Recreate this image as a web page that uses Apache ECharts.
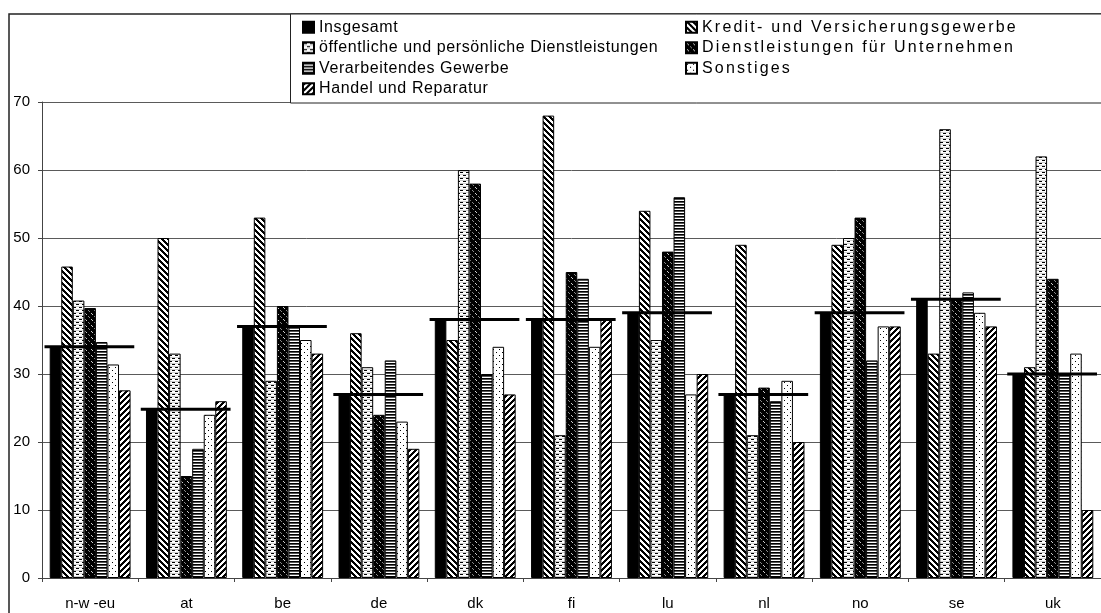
<!DOCTYPE html>
<html>
<head>
<meta charset="utf-8">
<script src="https://cdn.jsdelivr.net/npm/echarts@6/dist/echarts.min.js"></script>
<style>
html,body{margin:0;padding:0;background:#fff;}
#chart{width:1101px;height:613px;}
</style>
</head>
<body>
<div id="chart"></div>
<script>
// ---- data ----
var categories = ['n-w -eu','at','be','de','dk','fi','lu','nl','no','se','uk'];
var seriesNames = [
  'Insgesamt',
  'Kredit- und Versicherungsgewerbe',
  'öffentliche und persönliche Dienstleistungen',
  'Dienstleistungen für Unternehmen',
  'Verarbeitendes Gewerbe',
  'Sonstiges',
  'Handel und Reparatur'
];
var insgesamt      = [34, 24.8, 37, 27, 38, 38, 39, 27, 39, 41, 30];
var kredit         = [45.8, 50, 53, 36, 35, 68, 54, 49, 49, 33, 31];
var oeffentliche   = [40.8, 33, 29, 31, 60, 21, 35, 21, 50, 66, 62];
var dienstUntern   = [39.7, 15, 40, 24, 58, 45, 48, 28, 53, 41, 44];
var verarbeitendes = [34.7, 19, 37, 32, 30, 44, 56, 26, 32, 42, 30];
var sonstiges      = [31.4, 24, 35, 23, 34, 34, 27, 29, 37, 39, 33];
var handel         = [27.6, 26, 33, 19, 27, 38, 30, 20, 37, 37, 10];
var yTicks = [0, 10, 20, 30, 40, 50, 60, 70];

// ---- patterns ----
function makePattern(w, h, bg, fn) {
  var c = document.createElement('canvas');
  c.width = w; c.height = h;
  var ctx = c.getContext('2d');
  ctx.fillStyle = bg; ctx.fillRect(0, 0, w, h);
  for (var y = 0; y < h; y++) {
    for (var x = 0; x < w; x++) {
      var col = fn(x, y);
      if (col) { ctx.fillStyle = col; ctx.fillRect(x, y, 1, 1); }
    }
  }
  return { image: c, repeat: 'repeat' };
}
var fills = [
  '#000000',
  makePattern(6, 6, '#ffffff', function (x, y) { return (((x - y) % 6) + 6) % 6 < 3 ? '#000' : null; }),
  makePattern(6, 6, '#ffffff', function (x, y) {
    if (y === 1 && x >= 1 && x <= 3) return '#000';
    if (y === 4 && (x >= 4 || x === 0)) return '#000';
    if (y === 0 || y === 3) return '#d0d0d0';
    return null;
  }),
  makePattern(6, 6, '#000000', function (x, y) {
    if ((x === 1 && y === 1) || (x === 2 && y === 2)) return '#cfcfcf';
    if ((x === 4 && y === 4) || (x === 5 && y === 5)) return '#8a8a8a';
    return null;
  }),
  makePattern(1, 3, '#ffffff', function (x, y) { return y === 0 ? '#000' : (y === 1 ? '#555' : null); }),
  makePattern(6, 6, '#ffffff', function (x, y) {
    if ((x === 1 && y === 1) || (x === 4 && y === 4)) return '#000';
    return null;
  }),
  makePattern(6, 6, '#ffffff', function (x, y) { return (x + y) % 6 < 3 ? '#000' : null; })
];
var seriesData = [insgesamt, kredit, oeffentliche, dienstUntern, verarbeitendes, sonstiges, handel];

var FONT = '"Liberation Sans", Arial, sans-serif';

var series = seriesNames.map(function (name, i) {
  return {
    name: name,
    type: 'bar',
    data: seriesData[i],
    barGap: '0%',
    barCategoryGap: '16%',
    itemStyle: { color: fills[i], borderColor: '#000', borderWidth: 1 },
    emphasis: { disabled: true },
    z: 2
  };
});
series.push({
  name: 'Insgesamt-Linie',
  type: 'custom',
  z: 10,
  data: insgesamt.map(function (v, i) { return [i, v]; }),
  renderItem: function (params, api) {
    var p = api.coord([api.value(0), api.value(1)]);
    var bw = api.size([1, 0])[0];
    return {
      type: 'line',
      shape: { x1: p[0] - bw / 2 + 2.5, y1: p[1], x2: p[0] + bw / 2 - 4, y2: p[1] },
      style: { stroke: '#000', lineWidth: 3 }
    };
  },
  silent: true
});

var legendCommon = {
  orient: 'vertical',
  itemWidth: 11,
  itemHeight: 11,
  itemGap: 4,
  padding: 0,
  icon: 'rect',
  selectedMode: false,
  textStyle: { fontFamily: FONT, fontSize: 16, color: '#000', lineHeight: 16.5 }
};

var option = {
  animation: false,
  backgroundColor: '#fff',
  graphic: [
    { type: 'rect', z: 0, shape: { x: 9, y: 14, width: 1300, height: 800 },
      style: { fill: 'none', stroke: '#222', lineWidth: 1.5 } },
    { type: 'rect', z: 1, shape: { x: 290.5, y: 14, width: 1000, height: 89 },
      style: { fill: '#fff', stroke: '#222', lineWidth: 1 } }
  ],
  legend: [
    Object.assign({}, legendCommon, { zlevel: 1, left: 302, top: 19, data: [seriesNames[0], seriesNames[2], seriesNames[4], seriesNames[6]] }),
    Object.assign({}, legendCommon, { zlevel: 2, left: 685, top: 19, data: [seriesNames[1], seriesNames[3], seriesNames[5]] })
  ],
  grid: { left: 42, top: 102, width: 1062, height: 476 },
  xAxis: {
    type: 'category',
    data: categories,
    axisLine: { lineStyle: { color: '#444', width: 1 } },
    axisTick: { show: true, length: 4, lineStyle: { color: '#444' } },
    axisLabel: { fontFamily: FONT, fontSize: 15, color: '#000', margin: 18 },
    splitLine: { show: false }
  },
  yAxis: {
    type: 'value',
    min: yTicks[0],
    max: yTicks[yTicks.length - 1],
    interval: 10,
    axisLine: { show: true, lineStyle: { color: '#444', width: 1 } },
    axisTick: { show: true, length: 4, lineStyle: { color: '#444' } },
    axisLabel: { fontFamily: FONT, fontSize: 15, color: '#000', margin: 12 },
    splitLine: { show: true, lineStyle: { color: '#5a5a5a', width: 1 } }
  },
  series: series
};

var chart = echarts.init(document.getElementById('chart'), null, { renderer: 'canvas' });
chart.setOption(option);
// widen the legend lettering a little, as in the original rendering
try {
  var painter = chart.getZr().painter;
  var l1 = painter.getLayer(1), l2 = painter.getLayer(2);
  if (l1 && l1.ctx) l1.ctx.letterSpacing = '0.6px';
  if (l2 && l2.ctx) l2.ctx.letterSpacing = '2.2px';
  painter.refresh(true);
} catch (e) {}
</script>
</body>
</html>
